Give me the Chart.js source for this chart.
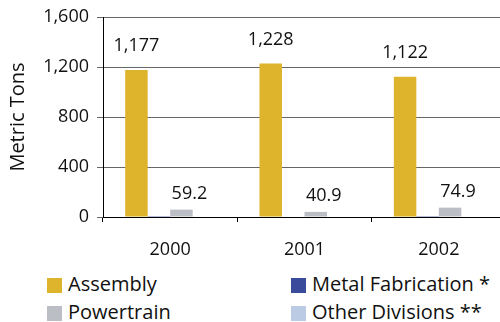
<!DOCTYPE html>
<html>
<head>
<meta charset="utf-8">
<script src="https://cdn.jsdelivr.net/npm/chart.js@4"></script>
<style>
  html, body { margin: 0; padding: 0; background: #fff; width: 500px; height: 322px; overflow: hidden; }
  #wrap { position: absolute; left: 0; top: 0; width: 506px; height: 262px; }
  .legend { position: absolute; font-family: "Open Sans", sans-serif; font-size: 20px; color: #111; line-height: 20px; white-space: nowrap; }
  .legend span.sw { position: absolute; left: 0; top: 2px; width: 15px; height: 15px; }
  .legend span.tx { position: absolute; left: 21px; top: -2px; }
</style>
</head>
<body>
<div id="wrap"><canvas id="c" width="506" height="262"></canvas></div>
<div id="legend"></div>
<script>
// Waste volumes by division, metric tons
const years = ['2000', '2001', '2002'];
const seriesNames = ['Assembly', 'Metal Fabrication *', 'Powertrain', 'Other Divisions **'];
const assembly = [1177, 1228, 1122];
const metalFabrication = [7, 0, 7];
const powertrain = [59.2, 40.9, 74.9];
const otherDivisions = [0, 0, 0];
const yTicks = [0, 400, 800, 1200, 1600];

const colors = ['#DFB42D', '#3B4B9B', '#BCBEC5', '#BACBE3'];
const seriesValues = [assembly, metalFabrication, powertrain, otherDivisions];
const labelledSeries = [0, 2];

const fmt = v => v.toLocaleString('en-US', { maximumFractionDigits: 1 });

const valueLabels = {
  id: 'valueLabels',
  afterDatasetsDraw(chart) {
    const ctx = chart.ctx;
    ctx.save();
    ctx.font = '18px "Open Sans", sans-serif';
    ctx.fillStyle = '#111';
    ctx.textAlign = 'center';
    ctx.textBaseline = 'alphabetic';
    labelledSeries.forEach(di => {
      const meta = chart.getDatasetMeta(di);
      meta.data.forEach((bar, i) => {
        const v = chart.data.datasets[di].data[i];
        if (di === 0) {
          ctx.fillText(fmt(v), bar.x, bar.y - 19);
        } else {
          ctx.fillText(fmt(v), bar.x + 8, bar.y - 11);
        }
      });
    });
    ctx.restore();
  }
};

new Chart(document.getElementById('c'), {
  type: 'bar',
  data: {
    labels: years,
    datasets: seriesNames.map((name, i) => ({
      label: name,
      data: seriesValues[i],
      backgroundColor: colors[i],
      borderWidth: 0,
      categoryPercentage: 0.67,
      barPercentage: 1.0
    }))
  },
  options: {
    responsive: false,
    animation: false,
    devicePixelRatio: 1,
    layout: { padding: { top: 10, right: 0, bottom: 0, left: 0 } },
    plugins: { legend: { display: false }, tooltip: { enabled: false } },
    scales: {
      x: {
        offset: true,
        grid: { display: true, drawOnChartArea: false, drawTicks: true, tickLength: 5, color: '#000', offset: true },
        border: { display: true, color: '#000', width: 1 },
        ticks: { color: '#111', font: { family: 'Open Sans', size: 18 }, padding: 17, maxRotation: 0 },
        afterFit: s => { s.height = 45; }
      },
      y: {
        min: 0,
        max: 1600,
        afterBuildTicks: s => { s.ticks = yTicks.map(v => ({ value: v })); },
        grid: { color: '#666', lineWidth: 1, tickLength: 6, tickColor: '#666' },
        border: { display: true, color: '#000', width: 1 },
        ticks: { color: '#111', font: { family: 'Open Sans', size: 18, lineHeight: 1.0 }, padding: 8, callback: v => fmt(v) },
        title: { display: true, text: 'Metric Tons', color: '#111', font: { family: 'Open Sans', size: 20 }, padding: { top: 6, bottom: 0 } },
        afterFit: s => { s.width = 103; }
      }
    }
  },
  plugins: [valueLabels]
});

// Legend laid out in two columns, row by row
const legendPos = [[47, 276], [291, 276], [47, 304], [291, 304]];
const legendEl = document.getElementById('legend');
seriesNames.forEach((name, i) => {
  const d = document.createElement('div');
  d.className = 'legend';
  d.style.left = legendPos[i][0] + 'px';
  d.style.top = legendPos[i][1] + 'px';
  d.innerHTML = '<span class="sw" style="background:' + colors[i] + '"></span><span class="tx"></span>';
  d.querySelector('.tx').textContent = name;
  legendEl.appendChild(d);
});
</script>
</body>
</html>
